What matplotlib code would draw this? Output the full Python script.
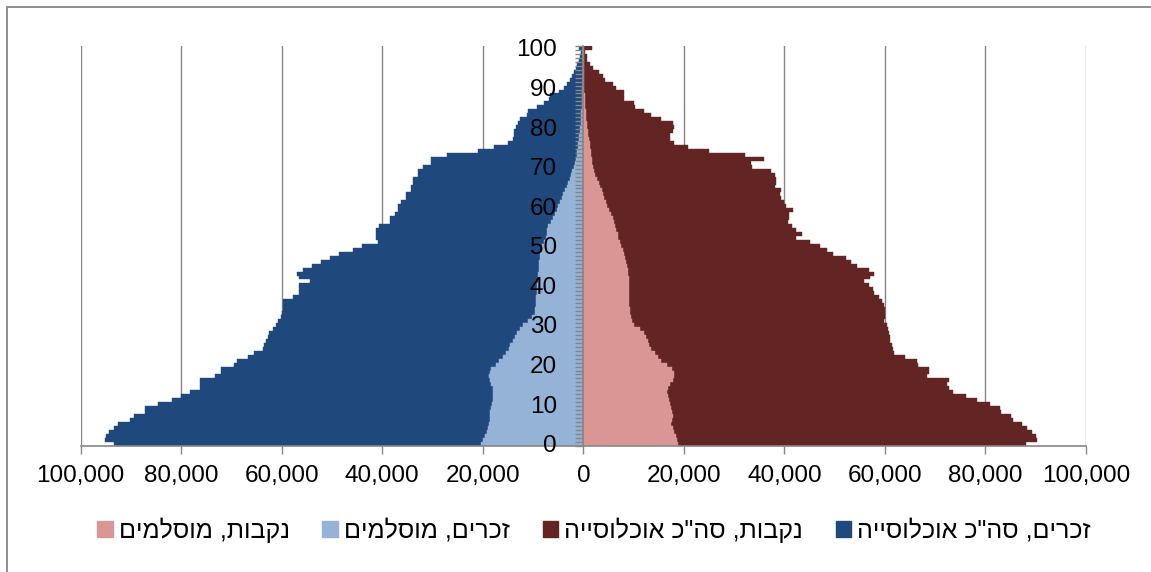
import numpy as np
import matplotlib
matplotlib.use("Agg")
import matplotlib.pyplot as plt
from matplotlib.ticker import FuncFormatter, FixedLocator
from matplotlib.patches import Rectangle, Patch

plt.rcParams['font.family'] = ['Liberation Sans', 'DejaVu Sans']

ages = np.arange(0, 101)

# population by single year of age, in thousands
male_total = [93.4, 95.1, 95.0, 94.3, 93.3, 92.5, 90.1, 89.3, 87.3, 87.3,
              84.7, 81.9, 80.0, 78.2, 76.2, 76.2, 76.2, 73.3, 72.0, 72.0,
              69.5, 69.0, 66.8, 65.6, 63.8, 63.5, 63.2, 62.8, 62.5, 61.7,
              61.2, 60.7, 60.1, 60.0, 59.7, 59.7, 59.7, 57.8, 56.6, 56.6,
              56.6, 54.3, 56.6, 57.0, 55.7, 54.0, 52.1, 50.4, 48.6, 45.9,
              44.0, 40.9, 41.2, 41.2, 41.2, 40.6, 38.5, 38.5, 37.5, 36.9,
              36.9, 36.2, 35.2, 35.2, 34.2, 34.2, 33.8, 33.8, 32.8, 32.8,
              32.0, 30.3, 30.3, 27.1, 21.0, 17.7, 15.0, 14.0, 13.7, 13.7,
              13.3, 13.0, 12.6, 11.3, 11.0, 9.3, 7.9, 6.9, 6.6, 4.9,
              3.9, 3.2, 2.6, 2.2, 1.8, 1.5, 1.2, 0.9, 0.7, 0.5, 0.9]

male_muslim = [20.4, 19.9, 19.6, 19.1, 18.9, 18.7, 18.6, 18.6, 18.6, 18.4,
               18.2, 17.9, 17.9, 17.9, 18.0, 18.3, 18.5, 18.8, 18.6, 18.3,
               17.4, 16.7, 16.0, 15.3, 14.8, 14.5, 14.0, 13.5, 13.2, 12.6,
               12.0, 11.0, 10.2, 9.7, 9.6, 9.5, 9.5, 9.4, 9.3, 9.3,
               9.2, 9.1, 9.1, 9.0, 8.9, 8.9, 8.8, 8.7, 8.6, 8.4,
               8.2, 7.9, 7.5, 7.3, 7.2, 7.0, 6.5, 6.1, 5.7, 5.3,
               5.0, 4.6, 4.3, 4.0, 3.6, 3.3, 3.0, 2.7, 2.4, 2.2,
               1.9, 1.7, 1.5, 1.3, 1.2, 1.1, 1.0, 0.9, 0.8, 0.7,
               0.6, 0.55, 0.5, 0.45, 0.4, 0.35, 0.3, 0.3, 0.25, 0.2,
               0.2, 0.15, 0.15, 0.1, 0.1, 0.1, 0.05, 0.05, 0.05, 0.05, 0.05]

female_total = [88.0, 90.3, 90.0, 89.2, 88.3, 87.2, 85.5, 85.1, 83.1, 82.8,
                80.9, 78.4, 76.1, 73.5, 72.7, 72.4, 72.8, 68.3, 68.7, 68.7,
                66.5, 66.3, 63.9, 61.9, 61.6, 61.4, 61.1, 61.0, 60.9, 60.7,
                60.5, 59.9, 60.0, 60.1, 60.0, 59.9, 59.4, 58.9, 57.8, 57.6,
                56.9, 55.9, 57.0, 57.9, 56.9, 54.5, 53.2, 52.2, 49.7, 48.4,
                47.1, 45.1, 42.3, 43.4, 42.4, 41.6, 40.8, 40.9, 40.9, 41.8,
                40.4, 39.9, 39.4, 39.1, 39.4, 38.1, 38.4, 38.4, 38.2, 37.4,
                33.6, 33.4, 35.9, 32.2, 24.9, 20.8, 18.1, 17.2, 17.2, 17.9,
                18.1, 17.9, 15.4, 13.5, 12.0, 10.3, 10.0, 8.1, 8.1, 8.0,
                6.5, 5.8, 4.4, 3.9, 3.1, 1.9, 1.3, 0.7, 0.7, 0.4, 1.7]

female_muslim = [18.9, 18.7, 18.5, 18.1, 17.8, 17.4, 17.7, 17.8, 17.6, 17.5,
                 17.2, 17.0, 16.9, 16.7, 16.8, 17.2, 17.8, 18.1, 18.0, 17.6,
                 16.7, 15.5, 14.8, 14.3, 13.5, 13.1, 12.9, 12.4, 12.1, 11.2,
                 10.0, 9.6, 9.4, 9.3, 9.2, 9.1, 9.1, 9.1, 9.1, 9.1,
                 9.1, 9.1, 9.1, 8.9, 8.8, 8.7, 8.5, 8.2, 8.0, 7.8,
                 7.4, 7.2, 6.9, 6.8, 6.5, 6.3, 6.0, 5.8, 5.5, 5.2,
                 4.8, 4.5, 4.2, 4.0, 3.8, 3.4, 3.1, 2.8, 2.4, 2.1,
                 1.9, 1.8, 1.7, 1.6, 1.5, 1.4, 1.3, 1.1, 1.0, 0.9,
                 0.8, 0.7, 0.6, 0.5, 0.5, 0.4, 0.4, 0.3, 0.3, 0.2,
                 0.2, 0.15, 0.15, 0.1, 0.1, 0.1, 0.05, 0.05, 0.05, 0.05, 0.05]

labels = ['זכרים, סה"כ אוכלוסייה', 'נקבות, סה"כ אוכלוסייה',
          'זכרים, מוסלמים', 'נקבות, מוסלמים']

c_male = '#1f497d'
c_female = '#632523'
c_male_m = '#95b3d7'
c_female_m = '#da9694'
grey = '#868686'


def rtl(s):
    # matplotlib has no bidi support, give hebrew in visual order
    return s[::-1]


fig = plt.figure(figsize=(11.51, 5.72), dpi=100)
ax = fig.add_axes([80.7 / 1151, 1 - 445.7 / 572, (1086 - 80.7) / 1151, (445.7 - 46) / 572])

mt = np.array(male_total) * 1000
mm = np.array(male_muslim) * 1000
ft = np.array(female_total) * 1000
fm = np.array(female_muslim) * 1000

ax.barh(ages, -mt, height=1.0, color=c_male, ec=c_male, lw=0.3, zorder=1)
ax.barh(ages, ft, height=1.0, color=c_female, ec=c_female, lw=0.3, zorder=1)
ax.barh(ages, -mm, height=1.0, color=c_male_m, ec=c_male_m, lw=0.3, zorder=1.1)
ax.barh(ages, fm, height=1.0, color=c_female_m, ec=c_female_m, lw=0.3, zorder=1.1)

ax.set_xlim(-100000, 100000)
ax.set_ylim(-0.5, 100.5)

ax.set_xticks(np.arange(-100000, 100001, 20000))
ax.xaxis.set_major_formatter(FuncFormatter(lambda v, p: f"{abs(int(round(v))):,}"))
ax.xaxis.grid(True, color=grey, lw=1.0)
ax.xaxis.set_zorder(0.5)
ax.yaxis.set_zorder(2.5)
ax.tick_params(axis='x', direction='out', length=6, width=1, color=grey,
               labelsize=17.5, pad=8)

ax.set_yticks(np.arange(0, 101, 10))
ax.yaxis.set_minor_locator(FixedLocator(np.arange(-0.5, 101, 1)))
ax.tick_params(axis='y', which='major', length=0, labelsize=17.5, pad=19)
ax.tick_params(axis='y', which='minor', direction='out', length=6, width=1, color=grey)

for s in ['top', 'right']:
    ax.spines[s].set_visible(False)
ax.spines['left'].set_position(('data', 0))
ax.spines['left'].set_color(grey)
ax.spines['bottom'].set_color(grey)
ax.spines['left'].set_linewidth(1.2)
ax.spines['bottom'].set_linewidth(1.2)

handles = [Patch(color=c_female_m), Patch(color=c_male_m),
           Patch(color=c_female), Patch(color=c_male)]
names = [rtl(labels[3]), rtl(labels[2]), rtl(labels[1]), rtl(labels[0])]
fig.legend(handles, names, loc='center', bbox_to_anchor=(594 / 1151, 1 - 530 / 572),
           ncol=4, frameon=False, fontsize=18, handlelength=0.62, handleheight=0.62,
           handletextpad=0.25, columnspacing=1.3)

fig.patches.append(Rectangle((7 / 1151, -0.1), 1.2, 1 - 7 / 572 + 0.1,
                             transform=fig.transFigure, fill=False,
                             ec=grey, lw=1.3, clip_on=False))

fig.savefig('out.png', dpi=100)
